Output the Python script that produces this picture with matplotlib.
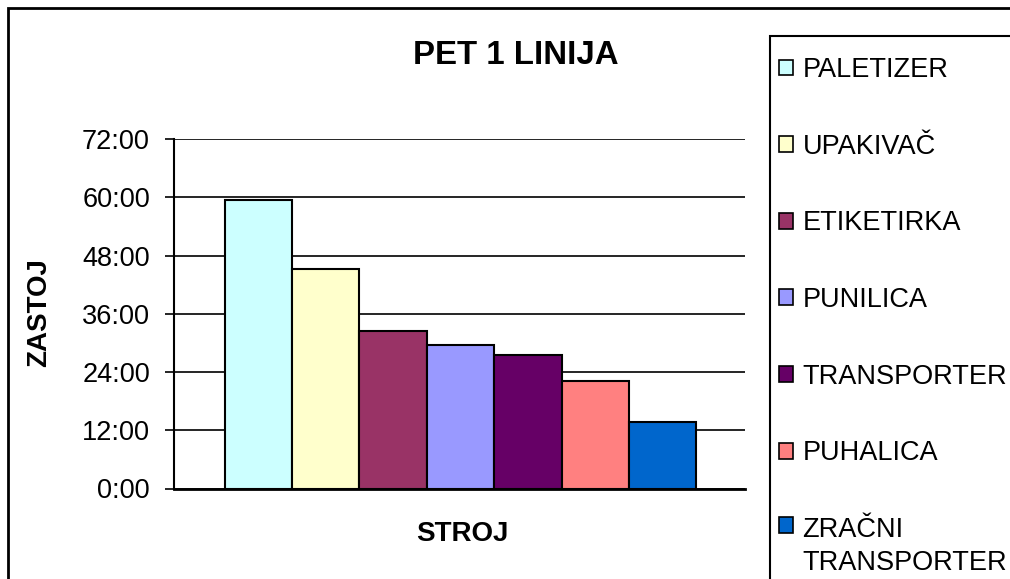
import matplotlib.pyplot as plt
from matplotlib.patches import Rectangle, Patch
from matplotlib.legend_handler import HandlerPatch
from matplotlib.ticker import FuncFormatter, MultipleLocator

plt.rcParams['font.family'] = ['Liberation Sans', 'DejaVu Sans']

# zastoj po stroju, u satima
strojevi = ['PALETIZER', 'UPAKIVAČ', 'ETIKETIRKA', 'PUNILICA',
            'TRANSPORTER', 'PUHALICA', 'ZRAČNI\nTRANSPORTER']
sati = [59.5, 45.3, 32.5, 29.5, 27.5, 22.2, 13.6]
boje = ['#CCFFFF', '#FFFFCC', '#993366', '#9999FF', '#660066', '#FF8080', '#0066CC']

W, H = 1010, 579
fig = plt.figure(figsize=(W / 100, H / 100), dpi=100)
ax = fig.add_axes([174 / W, 1 - 488.5 / H, (745 - 174) / W, (488.5 - 139) / H])

x = list(range(len(sati)))
ax.bar(x, sati, width=1.0, color=boje, edgecolor='black', linewidth=1.5, zorder=3)

ax.set_ylim(0, 72)
ax.set_xlim(-0.5 - 0.75, len(sati) - 0.5 + 0.72)
ax.yaxis.set_major_locator(MultipleLocator(12))
ax.yaxis.set_major_formatter(FuncFormatter(lambda v, p: f"{int(v)}:00"))
ax.grid(axis='y', color='black', linewidth=1.2, zorder=0)
ax.set_xticks([])
ax.tick_params(axis='y', direction='out', length=6.5, width=1.2, labelsize=19.5, pad=10.8)
for s in ['top', 'right']:
    ax.spines[s].set_visible(False)
ax.spines['left'].set_linewidth(1.5)
ax.spines['bottom'].set_linewidth(2)

fig.text(39 / W, 1 - 313 / H, 'ZASTOJ', rotation=90, ha='center', va='center',
         fontsize=20, fontweight='bold')
fig.text(462 / W, 1 - 534 / H, 'STROJ', ha='center', va='center',
         fontsize=20, fontweight='bold')
fig.text(516 / W, 1 - 55 / H, 'PET 1 LINIJA', ha='center', va='center',
         fontsize=23.8, fontweight='bold')

# okvir grafikona i legende
fig.patches.append(Rectangle((8 / W, -0.1), 1.2, 1 - 8 / H + 0.1, transform=fig.transFigure,
                             fill=False, edgecolor='black', linewidth=2))
fig.patches.append(Rectangle((770 / W, -0.1), 0.5, 1 - 36 / H + 0.1, transform=fig.transFigure,
                             fill=False, edgecolor='black', linewidth=1.5))


def kvadrat_gore(legend, orig_handle, xdescent, ydescent, width, height, fontsize):
    # kvadratic uz prvi red dvoredne oznake
    return Rectangle((-xdescent, -ydescent + 0.8 * fontsize), width, height)


handles = [Patch(facecolor=c, edgecolor='black', linewidth=1.2) for c in boje]
leg = fig.legend(handles, strojevi, loc='upper left', bbox_to_anchor=(779 / W, 1 - 57 / H),
                 frameon=False, fontsize=19.5, handlelength=0.52, handleheight=0.52,
                 handletextpad=0.35, labelspacing=1.87, borderaxespad=0, borderpad=0,
                 handler_map={handles[-1]: HandlerPatch(patch_func=kvadrat_gore)})
leg.get_texts()[-1].set_linespacing(1.35)

fig.savefig('out.png', dpi=100)
